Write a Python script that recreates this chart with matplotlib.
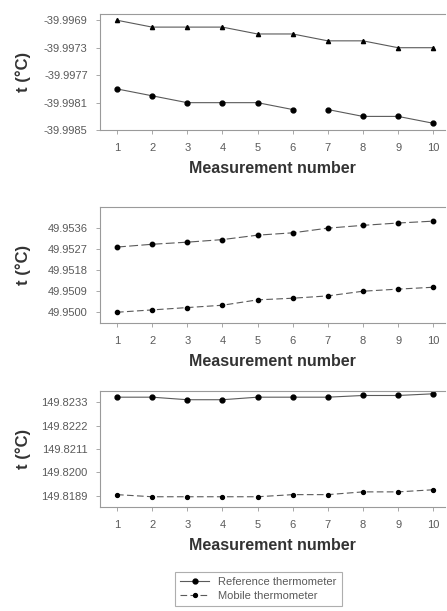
import numpy as np
import matplotlib.pyplot as plt

plt.rcParams['font.family'] = ['Liberation Sans', 'DejaVu Sans']

n = list(range(1, 11))

# -40 °C
mob_m40 = [-39.9969, -39.9970, -39.9970, -39.9970, -39.9971, -39.9971, -39.9972, -39.9972, -39.9973, -39.9973]
ref_m40 = [-39.9979, -39.9980, -39.9981, -39.9981, -39.9981, -39.9982, -39.9982, -39.9983, -39.9983, -39.9984]
# 50 °C
ref_50 = [49.95279, 49.95291, 49.95300, 49.95311, 49.95330, 49.95340, 49.95360, 49.95372, 49.95382, 49.95390]
mob_50 = [49.95000, 49.95010, 49.95020, 49.95030, 49.95053, 49.95060, 49.95070, 49.95090, 49.95099, 49.95107]
# 150 °C
ref_150 = [149.82355, 149.82355, 149.82343, 149.82343, 149.82355, 149.82355, 149.82355, 149.82363, 149.82363, 149.82371]
mob_150 = [149.81895, 149.81885, 149.81885, 149.81885, 149.81885, 149.81895, 149.81895, 149.81908, 149.81908, 149.81918]

yticks_m40 = [-39.9985, -39.9981, -39.9977, -39.9973, -39.9969]
yticks_50 = [49.9500, 49.9509, 49.9518, 49.9527, 49.9536]
yticks_150 = [149.8189, 149.8200, 149.8211, 149.8222, 149.8233]

fig = plt.figure(figsize=(4.47, 6.11), dpi=100)

grey = '#5a5a5a'
spine_c = '#9a9a9a'

def setup(ax, yticks, ylim):
    ax.set_xlim(0.52, 10.34)
    ax.set_ylim(*ylim)
    ax.set_xticks(n)
    ax.set_yticks(yticks)
    ax.set_yticklabels(['%.4f' % v for v in yticks])
    ax.spines['right'].set_visible(False)
    for s in ['left', 'bottom', 'top']:
        ax.spines[s].set_color(spine_c)
        ax.spines[s].set_linewidth(0.8)
    ax.tick_params(axis='both', length=3, width=0.6, color=spine_c, labelsize=8,
                   labelcolor=grey, pad=6)
    ax.set_xlabel('Measurement number', fontsize=11.5, fontweight='bold', color='#333333', labelpad=6)
    ax.set_ylabel('t (°C)', fontsize=12, fontweight='bold', color='#333333')
    ax.yaxis.set_label_coords(-0.2, 0.5)

ref_style = dict(color=grey, lw=0.8, ls='-', marker='o', ms=3.5, mfc='black', mec='black')
mob_style = dict(color=grey, lw=0.8, ls=(0, (6, 3)), marker='o', ms=2.8, mfc='black', mec='black')

# panel 1
ax1 = fig.add_axes([0.224, 0.787, 0.772, 0.190])
ax1.plot(n, mob_m40, **dict(mob_style, ls='-', marker='^', ms=3))
ax1.plot(n[:6], ref_m40[:6], **ref_style)
ax1.plot(n[6:], ref_m40[6:], **ref_style)
setup(ax1, yticks_m40, (-39.9985, -39.99681))

# panel 2
ax2 = fig.add_axes([0.224, 0.471, 0.772, 0.190])
ax2.plot(n, ref_50, **dict(ref_style, ls=(0, (8, 3)), ms=3.2))
ax2.plot(n, mob_50, **dict(mob_style, ms=3.0))
setup(ax2, yticks_50, (49.94953, 49.95450))

# panel 3
ax3 = fig.add_axes([0.224, 0.170, 0.772, 0.190])
l_ref, = ax3.plot(n, ref_150, **ref_style)
l_mob, = ax3.plot(n, mob_150, **mob_style)
setup(ax3, yticks_150, (149.81836, 149.82384))

leg = fig.legend([l_ref, l_mob], ['Reference thermometer', 'Mobile thermometer'],
                 loc='center', bbox_to_anchor=(0.578, 0.036), fontsize=8,
                 frameon=True, fancybox=False, edgecolor=spine_c, handlelength=2.6,
                 borderpad=0.5, labelspacing=0.3, handletextpad=0.8)
for t in leg.get_texts():
    t.set_color(grey)
leg.get_frame().set_linewidth(0.8)

fig.savefig('out.png', dpi=100)
